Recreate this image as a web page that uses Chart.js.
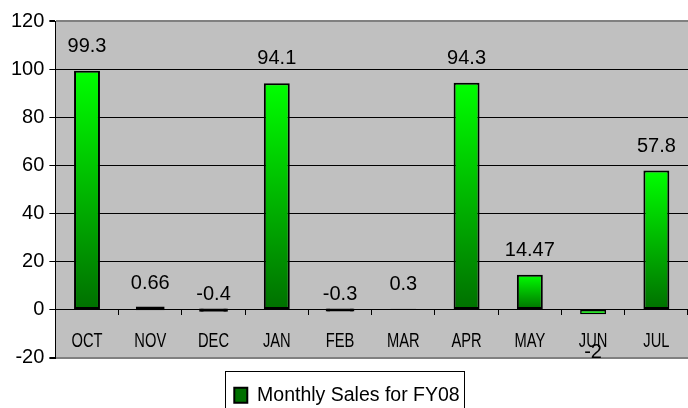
<!DOCTYPE html>
<html>
<head>
<meta charset="utf-8">
<script src="https://cdn.jsdelivr.net/npm/chart.js@4"></script>
<style>
    html, body { margin: 0; padding: 0; background: #fff; overflow: hidden; }
    .chart-box { width: 688px; height: 408px; }
</style>
</head>
<body>
<div class="chart-box"><canvas class="sales-chart"></canvas></div>
<script>
const months = ['OCT', 'NOV', 'DEC', 'JAN', 'FEB', 'MAR', 'APR', 'MAY', 'JUN', 'JUL'];
const salesFY08 = [99.3, 0.66, -0.4, 94.1, -0.3, 0.3, 94.3, 14.47, -2, 57.8];
const valueLabels = ['99.3', '0.66', '-0.4', '94.1', '-0.3', '0.3', '94.3', '14.47', '-2', '57.8'];
const yTicks = [-20, 0, 20, 40, 60, 80, 100, 120];

const salesChart = document.querySelector('.sales-chart');

Chart.defaults.font.family = "'Liberation Sans', Arial, sans-serif";
Chart.defaults.color = '#000';

// near-zero bars show up as a thick black line in the original
// (the small positive one in MAR shows nothing)
function isTinyBar(i) {
    const v = salesFY08[i];
    return v > -1 && v < 1 && !(v > 0 && v < 0.5);
}

// gradient per bar: bright at the top, dark green at the bottom
function barGradient(context) {
    const chart = context.chart;
    if (context.dataIndex === undefined || !chart.chartArea) {
        return '#00cc00';
    }
    if (isTinyBar(context.dataIndex)) {
        return '#000';
    }
    const y = chart.scales.y;
    const value = salesFY08[context.dataIndex];
    const top = y.getPixelForValue(Math.max(value, 0));
    const bottom = y.getPixelForValue(Math.min(value, 0));
    if (bottom - top < 6) {
        return '#00ff00';
    }
    const grad = chart.ctx.createLinearGradient(0, top, 0, bottom);
    grad.addColorStop(0, '#00ff00');
    grad.addColorStop(1, '#007000');
    return grad;
}

const plotBackground = {
    id: 'plotBackground',
    beforeDraw(chart) {
        const { ctx, chartArea } = chart;
        ctx.save();
        ctx.fillStyle = '#c0c0c0';
        ctx.fillRect(chartArea.left, chartArea.top, chartArea.right - chartArea.left, chartArea.bottom - chartArea.top);
        ctx.restore();
    }
};

// month names are drawn squeezed, like the original
const squeezedMonths = {
    id: 'squeezedMonths',
    afterDatasetsDraw(chart) {
        const { ctx } = chart;
        const x = chart.scales.x;
        const zeroY = chart.scales.y.getPixelForValue(0);
        ctx.save();
        ctx.font = "21px 'Liberation Sans', Arial, sans-serif";
        ctx.fillStyle = '#000';
        ctx.textAlign = 'center';
        ctx.textBaseline = 'alphabetic';
        chart.data.labels.forEach((label, i) => {
            ctx.save();
            ctx.translate(x.getPixelForTick(i), zeroY + 38);
            ctx.scale(0.7, 1);
            ctx.fillText(label, 0, 0);
            ctx.restore();
        });
        ctx.restore();
    }
};

const valueLabelPlugin = {
    id: 'valueLabels',
    afterDatasetsDraw(chart) {
        const { ctx } = chart;
        const meta = chart.getDatasetMeta(0);
        const y = chart.scales.y;
        ctx.save();
        ctx.font = "20px 'Liberation Sans', Arial, sans-serif";
        ctx.fillStyle = '#000';
        ctx.textAlign = 'center';
        ctx.textBaseline = 'alphabetic';
        meta.data.forEach((bar, i) => {
            const value = salesFY08[i];
            let baseY;
            if (value >= 0) {
                baseY = y.getPixelForValue(value) - 19;
            } else if (value > -1) {
                baseY = y.getPixelForValue(0) - 9;
            } else {
                baseY = y.getPixelForValue(value) + 44;
            }
            ctx.fillText(valueLabels[i], bar.x, baseY);
        });
        ctx.restore();
    }
};

const legendFrame = {
    id: 'legendFrame',
    afterDraw(chart) {
        const legend = chart.legend;
        if (!legend || !legend.legendHitBoxes.length) return;
        const hit = legend.legendHitBoxes[0];
        const { ctx } = chart;
        ctx.save();
        ctx.strokeStyle = '#000';
        ctx.lineWidth = 1;
        ctx.strokeRect(Math.round(hit.left - 9) + 0.5, Math.round(hit.top - 15) + 0.5, Math.round(hit.width + 14), 60);
        ctx.restore();
    }
};

new Chart(salesChart, {
    type: 'bar',
    data: {
        labels: months,
        datasets: [{
            label: 'Monthly Sales for FY08',
            data: salesFY08,
            backgroundColor: barGradient,
            borderColor: '#000',
            borderWidth: ctx => (ctx.dataIndex !== undefined && Math.abs(salesFY08[ctx.dataIndex]) < 5) ? 1.5 : 2,
            inflateAmount: ctx => (ctx.dataIndex !== undefined && isTinyBar(ctx.dataIndex)) ? 1.4 : 'auto',
            borderSkipped: false,
            categoryPercentage: 1,
            barPercentage: 0.41
        }]
    },
    options: {
        responsive: true,
        maintainAspectRatio: false,
        animation: false,
        layout: {
            padding: { left: 6, right: 0, top: 21, bottom: -7 }
        },
        plugins: {
            tooltip: { enabled: false },
            legend: {
                position: 'bottom',
                labels: {
                    font: { size: 19.5 },
                    color: '#000',
                    boxWidth: 13,
                    boxHeight: 15,
                    padding: 28
                }
            }
        },
        scales: {
            x: {
                position: { y: 0 },
                offset: true,
                grid: {
                    offset: true,
                    drawOnChartArea: false,
                    color: '#000',
                    tickLength: 6
                },
                border: { display: false },
                ticks: {
                    autoSkip: false,
                    maxRotation: 0,
                    padding: 12,
                    color: 'rgba(0,0,0,0)',
                    font: { size: 19 }
                }
            },
            y: {
                min: -20,
                max: 120,
                afterBuildTicks: axis => {
                    axis.ticks = yTicks.map(v => ({ value: v }));
                },
                grid: {
                    color: ctx => (ctx.tick && (ctx.tick.value === 120 || ctx.tick.value === -20)) ? '#808080' : '#000',
                    lineWidth: ctx => (ctx.tick && (ctx.tick.value === 120 || ctx.tick.value === -20)) ? 2 : 1,
                    tickLength: 6,
                    tickColor: '#000'
                },
                border: { color: '#000', width: 1 },
                ticks: {
                    padding: 5,
                    font: { size: 20 }
                }
            }
        }
    },
    plugins: [plotBackground, squeezedMonths, valueLabelPlugin, legendFrame]
});
</script>
</body>
</html>
